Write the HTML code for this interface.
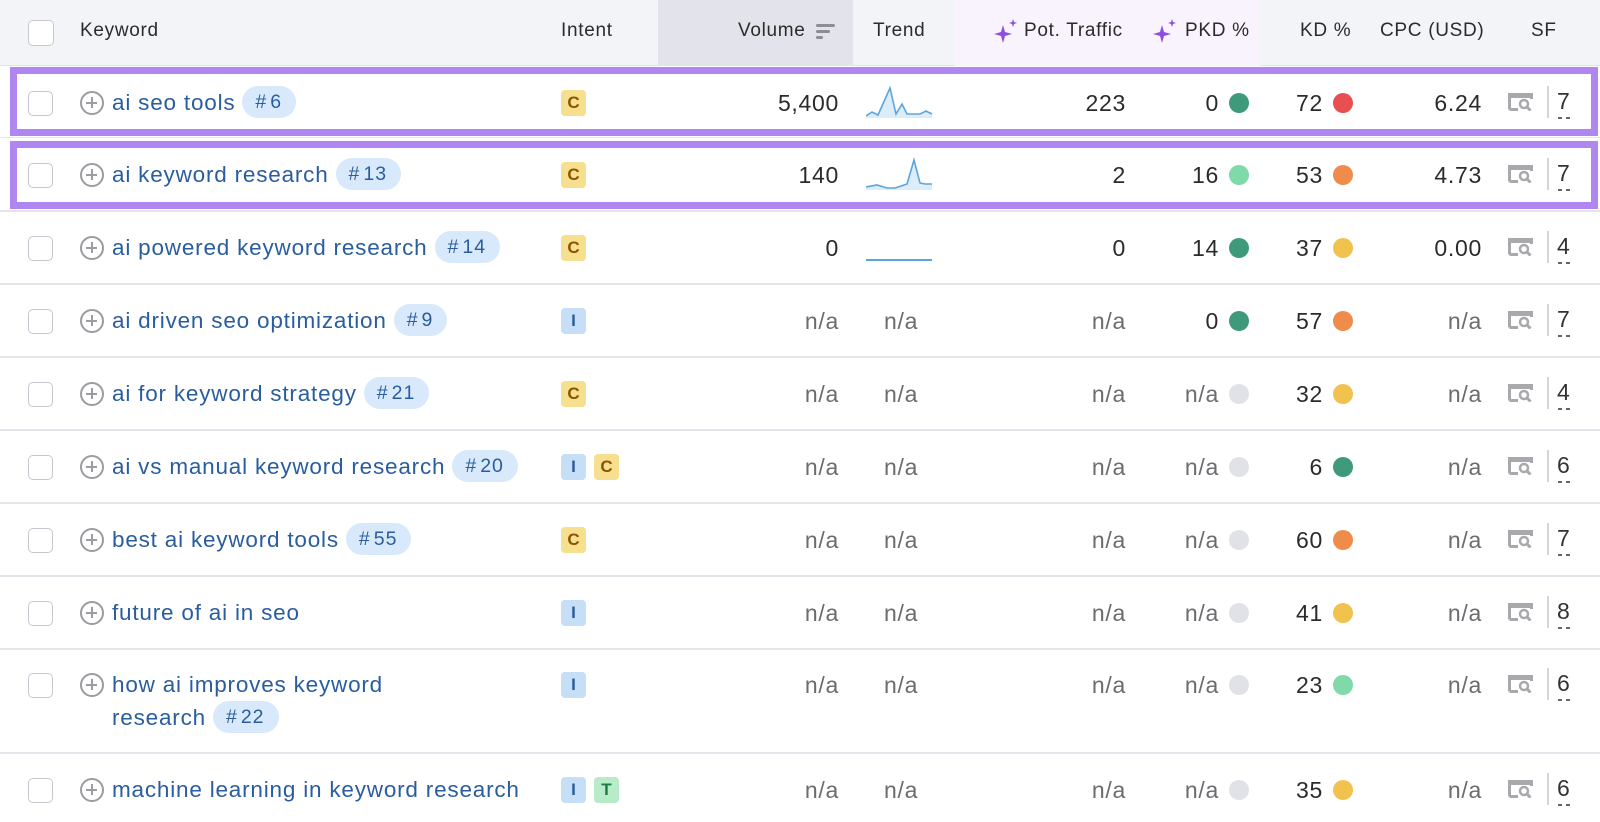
<!DOCTYPE html>
<html><head><meta charset="utf-8"><style>
*{box-sizing:border-box;margin:0;padding:0}
body{width:1600px;height:822px;overflow:hidden;background:#fff;font-family:"Liberation Sans",Arial,sans-serif;position:relative;color:#2b2b2b}
.a{position:absolute;white-space:nowrap}
.hdr{position:absolute;left:0;top:0;width:1600px;height:66px;background:#f3f4f8;border-bottom:1px solid #e2e3ea}
.ht{position:absolute;top:20px;font-size:19px;color:#2b2b2b;line-height:22px;letter-spacing:0.7px;white-space:nowrap}
.sep{position:absolute;left:0;width:1600px;height:2px;background:#e4e4ea}
.cb{position:absolute;left:28px;width:25px;height:25px;border:1.5px solid #c6c7cf;border-radius:5px;background:#fff}
.pl{position:absolute;left:80px;width:24px;height:24px;border:2.5px solid #9b9ba0;border-radius:50%}
.pl:before{content:"";position:absolute;left:4px;top:8.5px;width:11px;height:2.5px;background:#9b9ba0}
.pl:after{content:"";position:absolute;left:8.5px;top:4px;width:2.5px;height:11px;background:#9b9ba0}
.kw{position:absolute;left:112px;font-size:22.5px;color:#2a5d9f;line-height:30px;letter-spacing:0.8px;white-space:nowrap}
.tag{display:inline-block;background:#d8e9fb;color:#2a5d9f;border-radius:16px;padding:0 14px 0 13px;height:32px;line-height:32px;font-size:19.5px;margin-left:7px;vertical-align:middle;position:relative;top:-2px;letter-spacing:1px}
.tag b{font-weight:normal;margin-right:3px}
.ib{position:absolute;width:25px;height:26px;border-radius:4px;font-size:17px;font-weight:bold;text-align:center;line-height:26px}
.C{background:#f6df8e;color:#8a5400}.I{background:#c7def7;color:#2a5d9f}.T{background:#b8ecc9;color:#1f7a45}
.num{position:absolute;font-size:23px;line-height:30px;text-align:right;letter-spacing:0.7px;white-space:nowrap}
.na{color:#6b6b70}
.dot{position:absolute;width:20px;height:20px;border-radius:50%}
.dg{background:#3f9a7b}.lg{background:#7fd9a8}.rd{background:#e94f50}.or{background:#ef8c4b}.ye{background:#f2c24f}.gr{background:#e1e1e8}
.sfi{position:absolute;left:1508px;width:25px;height:18px}
.dv{position:absolute;left:1547px;width:2px;height:32px;background:#d6d6da}
.sfn{position:absolute;left:1557px;font-size:23px;line-height:30px;color:#333;width:16px;white-space:nowrap}
.sfn i{position:absolute;left:1px;top:31px;width:4px;height:1.5px;background:#666}
.sfn i+i{left:9px}
.box{position:absolute;left:10px;width:1588px;border:7px solid #b086f0}
</style></head><body>
<div class="hdr"></div>
<div class="a" style="left:658px;top:0;width:195px;height:66px;background:#e3e4eb"></div>
<div class="a" style="left:955px;top:0;width:305px;height:66px;background:#f8f3fd"></div>
<div class="cb" style="top:20px;width:26px;height:26px"></div>
<div class="ht" style="left:80px">Keyword</div>
<div class="ht" style="left:561px">Intent</div>
<div class="ht" style="left:738px">Volume</div>
<svg class="a" style="left:816px;top:22px" width="20" height="18"><rect x="0" y="2" width="19" height="3" rx="1.5" fill="#8d8d95"/><rect x="0" y="8" width="14" height="3" rx="1.5" fill="#8d8d95"/><rect x="0" y="14" width="7" height="3" rx="1.5" fill="#8d8d95"/></svg>
<div class="ht" style="left:873px">Trend</div>
<svg class="a" style="left:994px;top:19px" width="24" height="24"><path d="M9 6 L11 13 L18 15 L11 17 L9 24 L7 17 L0 15 L7 13Z" fill="#8c4fe0"/><path d="M19 0 L20 3 L23 4 L20 5 L19 8 L18 5 L15 4 L18 3Z" fill="#8c4fe0"/></svg>
<div class="ht" style="left:1024px">Pot. Traffic</div>
<svg class="a" style="left:1153px;top:19px" width="24" height="24"><path d="M9 6 L11 13 L18 15 L11 17 L9 24 L7 17 L0 15 L7 13Z" fill="#8c4fe0"/><path d="M19 0 L20 3 L23 4 L20 5 L19 8 L18 5 L15 4 L18 3Z" fill="#8c4fe0"/></svg>
<div class="ht" style="left:1185px">PKD %</div>
<div class="ht" style="left:1300px">KD %</div>
<div class="ht" style="left:1380px">CPC (USD)</div>
<div class="ht" style="left:1531px">SF</div>

<div class="sep" style="top:137px;height:1px"></div>
<div class="sep" style="top:210px"></div>
<div class="sep" style="top:283px"></div>
<div class="sep" style="top:356px"></div>
<div class="sep" style="top:429px"></div>
<div class="sep" style="top:502px"></div>
<div class="sep" style="top:575px"></div>
<div class="sep" style="top:648px"></div>
<div class="sep" style="top:752px"></div>

<div class="box" style="top:67px;height:69px"></div>
<div class="box" style="top:141px;height:68px"></div>

<svg width="0" height="0" style="position:absolute"><defs><symbol id="sf" viewBox="0 0 25 18"><path d="M1.5 16.5 V1.5 H23.5 V6" fill="none" stroke="#a9a9ad" stroke-width="3"/><rect x="0" y="0" width="25" height="5" fill="#a9a9ad"/><path d="M1.5 16.5 H10" stroke="#a9a9ad" stroke-width="3"/><circle cx="16" cy="11" r="4" fill="none" stroke="#a9a9ad" stroke-width="2.5"/><path d="M19 14 L22.5 17.5" stroke="#a9a9ad" stroke-width="3"/></symbol></defs></svg>

<!-- row1 -->
<div class="cb" style="top:91px"></div><div class="pl" style="top:91px"></div>
<div class="kw" style="top:88px">ai seo tools<span class="tag"><b>#</b>6</span></div>
<div class="ib C" style="left:561px;top:90px">C</div>
<div class="num" style="right:761px;top:88px">5,400</div>
<svg class="a" style="left:866px;top:86px" width="68" height="34"><path d="M0 30 L6 26 L12 29 L24 2 L30 28 L36 18 L41 28 L48 28 L54 28 L60 25 L66 28 L66 32 L0 32Z" fill="#dcecf9"/><path d="M0 30 L6 26 L12 29 L24 2 L30 28 L36 18 L41 28 L48 28 L54 28 L60 25 L66 28" fill="none" stroke="#5aa6dc" stroke-width="1.6"/></svg>
<div class="num" style="right:474px;top:88px">223</div>
<div class="num" style="right:381px;top:88px">0</div><div class="dot dg" style="left:1229px;top:93px"></div>
<div class="num" style="right:277px;top:88px">72</div><div class="dot rd" style="left:1333px;top:93px"></div>
<div class="num" style="right:118px;top:88px">6.24</div>
<svg class="sfi" style="top:93px"><use href="#sf"/></svg><div class="dv" style="top:86px"></div><div class="sfn" style="top:86px">7<i></i><i></i></div>

<!-- row2 -->
<div class="cb" style="top:163px"></div><div class="pl" style="top:163px"></div>
<div class="kw" style="top:160px">ai keyword research<span class="tag"><b>#</b>13</span></div>
<div class="ib C" style="left:561px;top:162px">C</div>
<div class="num" style="right:761px;top:160px">140</div>
<svg class="a" style="left:866px;top:157px" width="68" height="34"><path d="M0 30 L11 28 L21 31 L29 31 L41 27 L48 3 L54 26 L59 27 L66 27 L66 33 L0 33Z" fill="#dcecf9"/><path d="M0 30 L11 28 L21 31 L29 31 L41 27 L48 3 L54 26 L59 27 L66 27" fill="none" stroke="#5aa6dc" stroke-width="1.6"/></svg>
<div class="num" style="right:474px;top:160px">2</div>
<div class="num" style="right:381px;top:160px">16</div><div class="dot lg" style="left:1229px;top:165px"></div>
<div class="num" style="right:277px;top:160px">53</div><div class="dot or" style="left:1333px;top:165px"></div>
<div class="num" style="right:118px;top:160px">4.73</div>
<svg class="sfi" style="top:165px"><use href="#sf"/></svg><div class="dv" style="top:158px"></div><div class="sfn" style="top:158px">7<i></i><i></i></div>

<!-- row3 -->
<div class="cb" style="top:236px"></div><div class="pl" style="top:236px"></div>
<div class="kw" style="top:233px">ai powered keyword research<span class="tag"><b>#</b>14</span></div>
<div class="ib C" style="left:561px;top:235px">C</div>
<div class="num" style="right:761px;top:233px">0</div>
<div class="a" style="left:866px;top:259px;width:66px;height:2px;background:#5aa6dc"></div>
<div class="num" style="right:474px;top:233px">0</div>
<div class="num" style="right:381px;top:233px">14</div><div class="dot dg" style="left:1229px;top:238px"></div>
<div class="num" style="right:277px;top:233px">37</div><div class="dot ye" style="left:1333px;top:238px"></div>
<div class="num" style="right:118px;top:233px">0.00</div>
<svg class="sfi" style="top:238px"><use href="#sf"/></svg><div class="dv" style="top:231px"></div><div class="sfn" style="top:231px">4<i></i><i></i></div>

<!-- row4 -->
<div class="cb" style="top:309px"></div><div class="pl" style="top:309px"></div>
<div class="kw" style="top:306px">ai driven seo optimization<span class="tag"><b>#</b>9</span></div>
<div class="ib I" style="left:561px;top:308px">I</div>
<div class="num na" style="right:761px;top:306px">n/a</div><div class="num na" style="left:884px;top:306px">n/a</div>
<div class="num na" style="right:474px;top:306px">n/a</div>
<div class="num" style="right:381px;top:306px">0</div><div class="dot dg" style="left:1229px;top:311px"></div>
<div class="num" style="right:277px;top:306px">57</div><div class="dot or" style="left:1333px;top:311px"></div>
<div class="num na" style="right:118px;top:306px">n/a</div>
<svg class="sfi" style="top:311px"><use href="#sf"/></svg><div class="dv" style="top:304px"></div><div class="sfn" style="top:304px">7<i></i><i></i></div>

<!-- row5 -->
<div class="cb" style="top:382px"></div><div class="pl" style="top:382px"></div>
<div class="kw" style="top:379px">ai for keyword strategy<span class="tag"><b>#</b>21</span></div>
<div class="ib C" style="left:561px;top:381px">C</div>
<div class="num na" style="right:761px;top:379px">n/a</div><div class="num na" style="left:884px;top:379px">n/a</div>
<div class="num na" style="right:474px;top:379px">n/a</div>
<div class="num na" style="right:381px;top:379px">n/a</div><div class="dot gr" style="left:1229px;top:384px"></div>
<div class="num" style="right:277px;top:379px">32</div><div class="dot ye" style="left:1333px;top:384px"></div>
<div class="num na" style="right:118px;top:379px">n/a</div>
<svg class="sfi" style="top:384px"><use href="#sf"/></svg><div class="dv" style="top:377px"></div><div class="sfn" style="top:377px">4<i></i><i></i></div>

<!-- row6 -->
<div class="cb" style="top:455px"></div><div class="pl" style="top:455px"></div>
<div class="kw" style="top:452px">ai vs manual keyword research<span class="tag"><b>#</b>20</span></div>
<div class="ib I" style="left:561px;top:454px">I</div><div class="ib C" style="left:594px;top:454px">C</div>
<div class="num na" style="right:761px;top:452px">n/a</div><div class="num na" style="left:884px;top:452px">n/a</div>
<div class="num na" style="right:474px;top:452px">n/a</div>
<div class="num na" style="right:381px;top:452px">n/a</div><div class="dot gr" style="left:1229px;top:457px"></div>
<div class="num" style="right:277px;top:452px">6</div><div class="dot dg" style="left:1333px;top:457px"></div>
<div class="num na" style="right:118px;top:452px">n/a</div>
<svg class="sfi" style="top:457px"><use href="#sf"/></svg><div class="dv" style="top:450px"></div><div class="sfn" style="top:450px">6<i></i><i></i></div>

<!-- row7 -->
<div class="cb" style="top:528px"></div><div class="pl" style="top:528px"></div>
<div class="kw" style="top:525px">best ai keyword tools<span class="tag"><b>#</b>55</span></div>
<div class="ib C" style="left:561px;top:527px">C</div>
<div class="num na" style="right:761px;top:525px">n/a</div><div class="num na" style="left:884px;top:525px">n/a</div>
<div class="num na" style="right:474px;top:525px">n/a</div>
<div class="num na" style="right:381px;top:525px">n/a</div><div class="dot gr" style="left:1229px;top:530px"></div>
<div class="num" style="right:277px;top:525px">60</div><div class="dot or" style="left:1333px;top:530px"></div>
<div class="num na" style="right:118px;top:525px">n/a</div>
<svg class="sfi" style="top:530px"><use href="#sf"/></svg><div class="dv" style="top:523px"></div><div class="sfn" style="top:523px">7<i></i><i></i></div>

<!-- row8 -->
<div class="cb" style="top:601px"></div><div class="pl" style="top:601px"></div>
<div class="kw" style="top:598px">future of ai in seo</div>
<div class="ib I" style="left:561px;top:600px">I</div>
<div class="num na" style="right:761px;top:598px">n/a</div><div class="num na" style="left:884px;top:598px">n/a</div>
<div class="num na" style="right:474px;top:598px">n/a</div>
<div class="num na" style="right:381px;top:598px">n/a</div><div class="dot gr" style="left:1229px;top:603px"></div>
<div class="num" style="right:277px;top:598px">41</div><div class="dot ye" style="left:1333px;top:603px"></div>
<div class="num na" style="right:118px;top:598px">n/a</div>
<svg class="sfi" style="top:603px"><use href="#sf"/></svg><div class="dv" style="top:596px"></div><div class="sfn" style="top:596px">8<i></i><i></i></div>

<!-- row9 -->
<div class="cb" style="top:673px"></div><div class="pl" style="top:673px"></div>
<div class="kw" style="top:670px">how ai improves keyword</div>
<div class="kw" style="top:703px">research<span class="tag"><b>#</b>22</span></div>
<div class="ib I" style="left:561px;top:672px">I</div>
<div class="num na" style="right:761px;top:670px">n/a</div><div class="num na" style="left:884px;top:670px">n/a</div>
<div class="num na" style="right:474px;top:670px">n/a</div>
<div class="num na" style="right:381px;top:670px">n/a</div><div class="dot gr" style="left:1229px;top:675px"></div>
<div class="num" style="right:277px;top:670px">23</div><div class="dot lg" style="left:1333px;top:675px"></div>
<div class="num na" style="right:118px;top:670px">n/a</div>
<svg class="sfi" style="top:675px"><use href="#sf"/></svg><div class="dv" style="top:668px"></div><div class="sfn" style="top:668px">6<i></i><i></i></div>

<!-- row10 -->
<div class="cb" style="top:778px"></div><div class="pl" style="top:778px"></div>
<div class="kw" style="top:775px">machine learning in keyword research</div>
<div class="ib I" style="left:561px;top:777px">I</div><div class="ib T" style="left:594px;top:777px">T</div>
<div class="num na" style="right:761px;top:775px">n/a</div><div class="num na" style="left:884px;top:775px">n/a</div>
<div class="num na" style="right:474px;top:775px">n/a</div>
<div class="num na" style="right:381px;top:775px">n/a</div><div class="dot gr" style="left:1229px;top:780px"></div>
<div class="num" style="right:277px;top:775px">35</div><div class="dot ye" style="left:1333px;top:780px"></div>
<div class="num na" style="right:118px;top:775px">n/a</div>
<svg class="sfi" style="top:780px"><use href="#sf"/></svg><div class="dv" style="top:773px"></div><div class="sfn" style="top:773px">6<i></i><i></i></div>
</body></html>
